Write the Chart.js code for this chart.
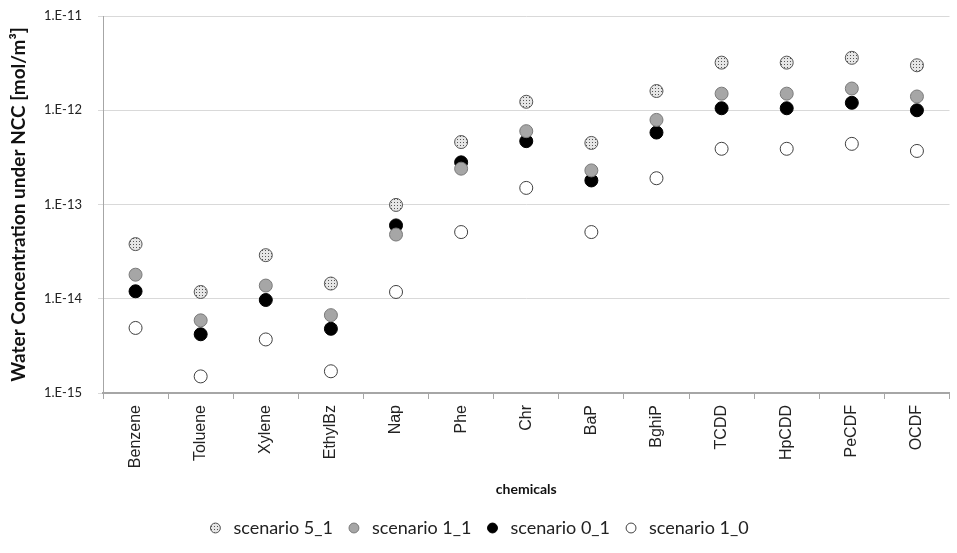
<!DOCTYPE html>
<html lang="en">
<head>
<meta charset="UTF-8">
<title>Water Concentration under NCC</title>
<script src="https://cdn.jsdelivr.net/npm/chart.js"></script>
<style>
  html, body { margin: 0; padding: 0; background: #fff; }
  #wrap { width: 957px; height: 553px; position: relative; }
</style>
</head>
<body>
<div id="wrap"><canvas id="chart"></canvas></div>
<script>
// chemicals on the x axis
const chemicals = ['Benzene', 'Toluene', 'Xylene', 'EthylBz', 'Nap', 'Phe', 'Chr', 'BaP', 'BghiP', 'TCDD', 'HpCDD', 'PeCDF', 'OCDF'];

// water concentration [mol/m3]
const scenario5_1 = [3.8e-14, 1.18e-14, 2.9e-14, 1.45e-14, 9.9e-14, 4.6e-13, 1.23e-12, 4.5e-13, 1.6e-12, 3.2e-12, 3.2e-12, 3.6e-12, 3.0e-12];
const scenario1_1 = [1.8e-14, 5.9e-15, 1.38e-14, 6.7e-15, 4.8e-14, 2.4e-13, 6.0e-13, 2.3e-13, 7.9e-13, 1.5e-12, 1.5e-12, 1.7e-12, 1.4e-12];
const scenario0_1 = [1.2e-14, 4.2e-15, 9.7e-15, 4.8e-15, 6.0e-14, 2.8e-13, 4.7e-13, 1.8e-13, 5.8e-13, 1.05e-12, 1.05e-12, 1.2e-12, 1.0e-12];
const scenario1_0 = [4.9e-15, 1.5e-15, 3.7e-15, 1.7e-15, 1.18e-14, 5.1e-14, 1.5e-13, 5.1e-14, 1.9e-13, 3.9e-13, 3.9e-13, 4.4e-13, 3.7e-13];

// y tick labels (one per decade)
const yTickValues = [1e-15, 1e-14, 1e-13, 1e-12, 1e-11];
const yTickLabels = ['1.E-15', '1.E-14', '1.E-13', '1.E-12', '1.E-11'];

// dotted fill for scenario 5_1
function dotPattern() {
  const c = document.createElement('canvas');
  c.width = 3; c.height = 3;
  const g = c.getContext('2d');
  g.fillStyle = '#e6e6e6';
  g.fillRect(0, 0, 3, 3);
  g.fillStyle = '#555';
  g.fillRect(1, 1, 1, 1);
  return g.createPattern(c, 'repeat');
}

const pat = dotPattern();

function series(label, data, fill, border) {
  return {
    label: label,
    data: data,
    showLine: false,
    pointRadius: 6.5,
    pointHoverRadius: 6.5,
    pointBorderWidth: 1,
    pointBackgroundColor: fill,
    pointBorderColor: border,
    backgroundColor: fill,
    borderColor: border
  };
}

new Chart(document.getElementById('chart'), {
  type: 'line',
  data: {
    labels: chemicals,
    datasets: [
      series('scenario 5_1', scenario5_1, pat, '#555'),
      series('scenario 1_1', scenario1_1, '#a6a6a6', '#7a7a7a'),
      series('scenario 0_1', scenario0_1, '#000', '#000'),
      series('scenario 1_0', scenario1_0, '#fff', '#404040')
    ]
  },
  options: {
    responsive: true,
    maintainAspectRatio: false,
    animation: false,
    layout: { padding: { top: 16, right: 2, bottom: 6, left: 0 } },
    plugins: {
      tooltip: { enabled: false },
      legend: {
        position: 'bottom',
        labels: {
          usePointStyle: true,
          pointStyle: 'circle',
          boxHeight: 7,
          padding: 12,
          color: '#222',
          font: { family: 'Lato', size: 18 }
        }
      }
    },
    scales: {
      x: {
        type: 'category',
        offset: true,
        grid: {
          offset: true,
          drawOnChartArea: false,
          drawTicks: true,
          tickLength: 6,
          color: '#a6a6a6'
        },
        border: { color: '#a6a6a6', width: 2 },
        ticks: {
          maxRotation: 90,
          minRotation: 90,
          autoSkip: false,
          padding: 6,
          color: '#222',
          font: { family: 'Liberation Sans', size: 16 }
        },
        title: {
          display: true,
          text: 'chemicals',
          color: '#111',
          font: { family: 'Lato', size: 14, weight: 'bold' },
          padding: { top: 4, bottom: 9 }
        },
        afterFit: s => { s.height = 114; }
      },
      y: {
        type: 'logarithmic',
        min: 1e-15,
        max: 1e-11,
        afterBuildTicks: s => { s.ticks = yTickValues.map(v => ({ value: v })); },
        grid: { color: '#d9d9d9', tickLength: 5 },
        border: { color: '#a6a6a6' },
        ticks: {
          padding: 16,
          color: '#222',
          font: { family: 'Lato', size: 13 },
          callback: v => yTickLabels[yTickValues.indexOf(v)] || ''
        },
        title: {
          display: true,
          text: 'Water Concentration under NCC [mol/m³]',
          color: '#111',
          font: { family: 'Lato', size: 19, weight: 'bold' },
          padding: { top: 7, bottom: 0 }
        },
        afterFit: s => { s.width = 103; s.paddingTop = 0; s.paddingBottom = 0; }
      }
    }
  }
});
</script>
</body>
</html>
